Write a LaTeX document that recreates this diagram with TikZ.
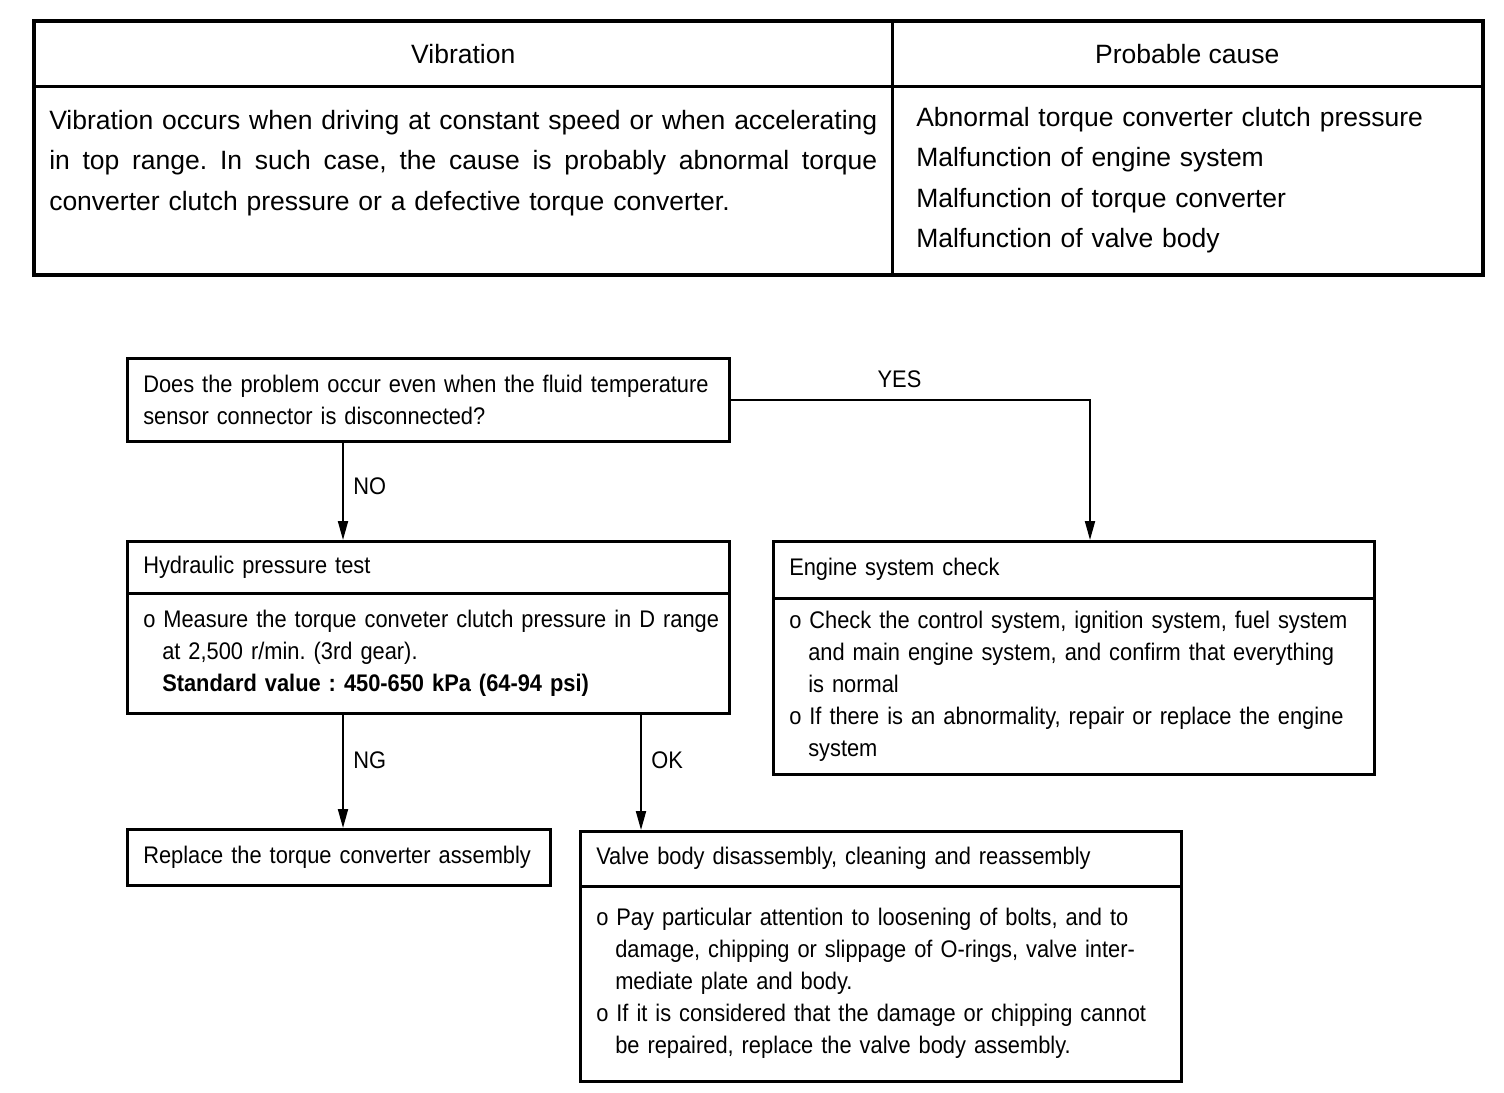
\documentclass[tikz,border=0pt]{standalone}
\usepackage{fontspec}
\setmainfont{Liberation Sans}
\newfontfamily\chartfont[FakeStretch=0.91]{Liberation Sans}
\usetikzlibrary{arrows.meta}
\frenchspacing

\begin{document}
\begin{tikzpicture}[x=1pt,y=-1pt,>={Triangle[length=19pt,width=10pt]}]
  \tikzstyle{cell}=[draw,line width=2.5pt,anchor=north west,inner sep=0pt,font=\fontsize{26.5}{40.5}\selectfont]
  \tikzstyle{box}=[draw,line width=2.5pt,anchor=north west,inner xsep=16pt,inner ysep=0pt,align=left,font=\chartfont\fontsize{24}{32}\selectfont]
  \tikzstyle{arr}=[->,line width=2pt]
  \tikzstyle{lbl}=[font=\chartfont\fontsize{24}{32}\selectfont]

  \useasboundingbox (0,0) rectangle (1504,1092);

  % table
  \node[cell,minimum width=858pt,minimum height=65pt] (th1) at (33,20) {Vibration};
  \node[cell,minimum width=590pt,minimum height=65pt] (th2) at (891,20) {Probable cause};
  \node[cell,text width=828pt,inner xsep=15pt,minimum height=188pt,align=left] (td1) at (33,85)
    {\leavevmode\hbox to 828pt{\spaceskip=.278em plus 2em\relax Vibration occurs when driving at constant speed or when accelerating}\\
     \leavevmode\hbox to 828pt{\spaceskip=.278em plus 2em\relax in top range. In such case, the cause is probably abnormal torque}\\
     converter clutch pressure or a defective torque converter.\\
     \mbox{}};
  \node[cell,text width=542pt,inner xsep=24pt,minimum height=188pt,align=left] (td2) at (891,85)
    {Abnormal torque converter clutch pressure\\
     Malfunction of engine system\\
     Malfunction of torque converter\\
     Malfunction of valve body};
  \draw[line width=3pt] (th1.north west) rectangle (td2.south east);

  % flow chart
  \node[box,text width=570pt,minimum height=83pt] (q) at (126,357)
    {Does the problem occur even when the fluid temperature\\sensor connector is disconnected?};
  \node[box,text width=570pt,minimum height=52pt] (hh) at (126,540) {Hydraulic pressure test};
  \node[box,text width=570pt,minimum height=120pt] (hb) at (126,592)
    {\mbox{o Measure the torque conveter clutch pressure in D range}\\
     \hspace*{19pt}at 2,500 r/min. (3rd gear).\\
     \hspace*{19pt}\textbf{Standard value : 450-650 kPa (64-94 psi)}};
  \node[box,text width=569pt,minimum height=57pt] (eh) at (772,540) {Engine system check};
  \node[box,text width=569pt,minimum height=176pt] (eb) at (772,597)
    {o Check the control system, ignition system, fuel system\\
     \hspace*{19pt}and main engine system, and confirm that everything\\
     \hspace*{19pt}is normal\\
     o If there is an abnormality, repair or replace the engine\\
     \hspace*{19pt}system};
  \node[box,text width=391pt,minimum height=56pt] (r) at (126,828) {Replace the torque converter assembly};
  \node[box,text width=569pt,minimum height=55pt] (vh) at (579,830) {Valve body disassembly, cleaning and reassembly};
  \node[box,text width=569pt,minimum height=195pt] (vb) at (579,885)
    {o Pay particular attention to loosening of bolts, and to\\
     \hspace*{19pt}damage, chipping or slippage of O-rings, valve inter-\\
     \hspace*{19pt}mediate plate and body.\\
     o If it is considered that the damage or chipping cannot\\
     \hspace*{19pt}be repaired, replace the valve body assembly.};

  \draw[arr] ([xshift=217pt]q.south west) -- ([xshift=217pt]hh.north west) node[lbl,pos=.45,right=6pt] {NO};
  \draw[arr] (q.east) -| ([xshift=318pt]eh.north west) node[lbl,pos=.235,above=8pt] {YES};
  \draw[arr] ([xshift=217pt]hb.south west) -- ([xshift=217pt]r.north west) node[lbl,pos=.4,right=6pt] {NG};
  \draw[arr] ([xshift=515pt]hb.south west) -- ([xshift=62pt]vh.north west) node[lbl,pos=.4,right=6pt] {OK};
\end{tikzpicture}
\end{document}
